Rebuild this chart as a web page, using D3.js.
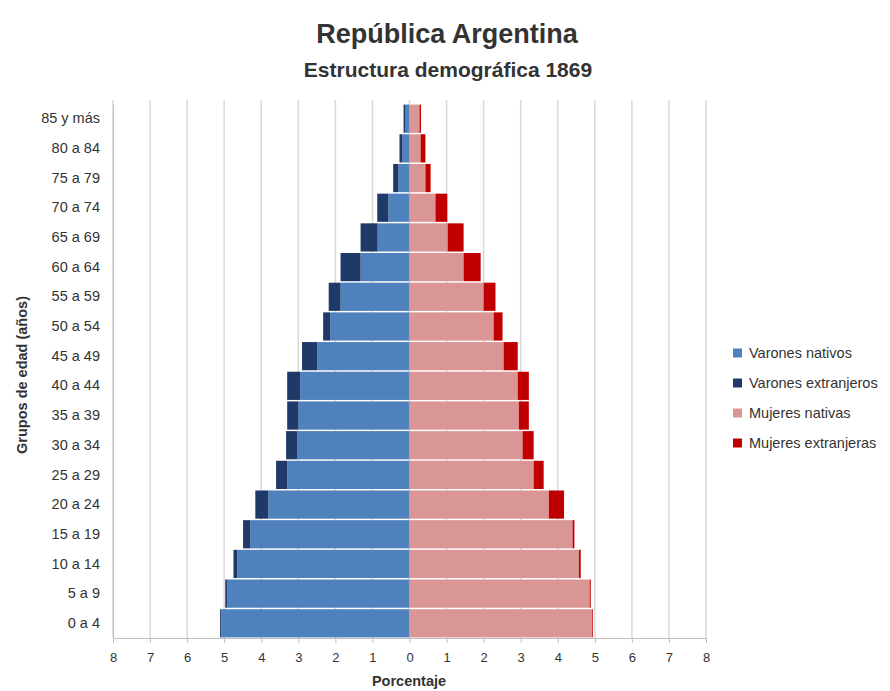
<!DOCTYPE html>
<html><head><meta charset="utf-8">
<script src="https://cdn.jsdelivr.net/npm/d3@7"></script>
<style>body{margin:0;background:#fff;font-family:"Liberation Sans",Arial,sans-serif;}</style>
</head><body>
<svg id="c" width="890" height="691"></svg>
<script>
const ageGroups = ["85 y más","80 a 84","75 a 79","70 a 74","65 a 69","60 a 64","55 a 59","50 a 54","45 a 49","40 a 44","35 a 39","30 a 34","25 a 29","20 a 24","15 a 19","10 a 14","5 a 9","0 a 4"];
const varonesNativos     = [0.12,0.19,0.30,0.57,0.86,1.32,1.86,2.14,2.49,2.95,3.00,3.03,3.30,3.81,4.30,4.65,4.92,5.08];
const varonesExtranjeros = [0.04,0.08,0.14,0.30,0.46,0.54,0.32,0.19,0.41,0.35,0.30,0.30,0.30,0.35,0.19,0.10,0.05,0.03];
const mujeresNativas     = [0.27,0.30,0.43,0.70,1.03,1.46,2.00,2.27,2.54,2.92,2.95,3.05,3.35,3.76,4.40,4.57,4.86,4.93];
const mujeresExtranjeras = [0.04,0.13,0.14,0.32,0.43,0.46,0.32,0.24,0.38,0.30,0.27,0.30,0.27,0.41,0.05,0.05,0.03,0.02];
const xTicks = [-8,-7,-6,-5,-4,-3,-2,-1,0,1,2,3,4,5,6,7,8];
const seriesNames = ["Varones nativos","Varones extranjeros","Mujeres nativas","Mujeres extranjeras"];
const seriesColors = ["#4F81BD","#1F3A68","#D99694","#C00000"];

const svg = d3.select("#c");
const pLeft = 113, pRight = 706, pTop = 104, pBottom = 638;
const x = d3.scaleLinear().domain([-8,8]).range([pLeft,pRight]);
const y = d3.scaleBand().domain(ageGroups).range([pTop,pBottom]).paddingInner(0.05).paddingOuter(0.02);

// gridlines
svg.append("g").selectAll("line").data(xTicks).join("line")
  .attr("x1",d=>x(d)).attr("x2",d=>x(d)).attr("y1",pTop-4).attr("y2",pBottom)
  .attr("stroke","#D9D9D9").attr("stroke-width",1.5);

// bars
const rows = ageGroups.map((g,i)=>({g,vn:varonesNativos[i],ve:varonesExtranjeros[i],mn:mujeresNativas[i],me:mujeresExtranjeras[i]}));
const segs = [];
rows.forEach(r=>{
  segs.push({g:r.g,x0:-r.vn,x1:0,c:seriesColors[0]});
  segs.push({g:r.g,x0:-(r.vn+r.ve),x1:-r.vn,c:seriesColors[1]});
  segs.push({g:r.g,x0:0,x1:r.mn,c:seriesColors[2]});
  segs.push({g:r.g,x0:r.mn,x1:r.mn+r.me,c:seriesColors[3]});
});
svg.append("g").selectAll("rect").data(segs).join("rect")
  .attr("x",d=>x(d.x0)).attr("width",d=>x(d.x1)-x(d.x0))
  .attr("y",d=>y(d.g)).attr("height",y.bandwidth()).attr("fill",d=>d.c);

// axes
const xAxis = d3.axisBottom(x).tickValues(xTicks).tickFormat(d=>Math.abs(d)).tickSize(5);
const gx = svg.append("g").attr("transform",`translate(0,${pBottom})`).call(xAxis);
gx.select(".domain").attr("stroke","#BFBFBF");
gx.selectAll(".tick line").attr("stroke","#BFBFBF");
gx.selectAll("text").attr("font-size",13).attr("fill","#333").attr("dy","1.2em");

const yAxis = d3.axisLeft(y).tickSize(0).tickPadding(13);
const gy = svg.append("g").attr("transform",`translate(${pLeft},0)`).call(yAxis);
gy.select(".domain").attr("stroke","#BFBFBF");
gy.selectAll("text").attr("font-size",14.5).attr("fill","#333");

// titles
svg.append("text").attr("x",447).attr("y",43).attr("text-anchor","middle")
  .attr("font-size",27).attr("font-weight","bold").attr("fill","#333").text("República Argentina");
svg.append("text").attr("x",448).attr("y",77).attr("text-anchor","middle")
  .attr("font-size",21).attr("font-weight","bold").attr("fill","#333").text("Estructura demográfica 1869");
svg.append("text").attr("transform","translate(27,375) rotate(-90)").attr("text-anchor","middle")
  .attr("font-size",14.5).attr("font-weight","bold").attr("fill","#333").text("Grupos de edad (años)");
svg.append("text").attr("x",409).attr("y",686).attr("text-anchor","middle")
  .attr("font-size",14.5).attr("font-weight","bold").attr("fill","#333").text("Porcentaje");

// legend
const lg = svg.append("g").selectAll("g").data(seriesNames).join("g")
  .attr("transform",(d,i)=>`translate(733,${353+i*30})`);
lg.append("rect").attr("x",0).attr("y",-4.5).attr("width",9).attr("height",9).attr("fill",(d,i)=>seriesColors[i]);
lg.append("text").attr("x",16).attr("y",5).attr("font-size",14.5).attr("fill","#333").text(d=>d);
</script>
</body></html>
